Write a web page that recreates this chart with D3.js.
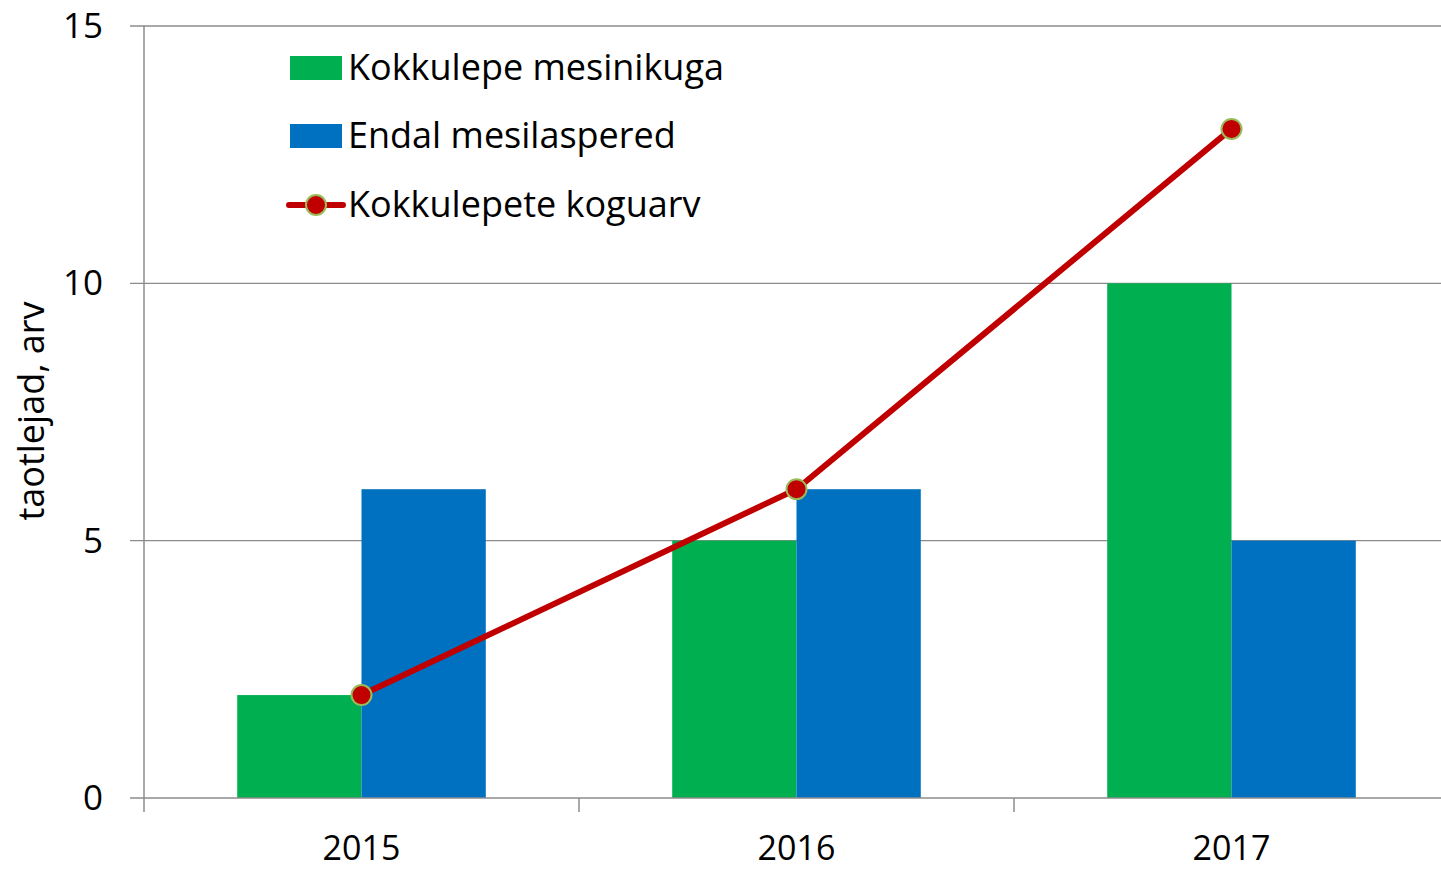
<!DOCTYPE html>
<html>
<head>
<meta charset="utf-8">
<script src="https://cdn.jsdelivr.net/npm/d3@7"></script>
<style>
  body { margin: 0; background: #fff; }
  text { font-family: "Open Sans", Lato, sans-serif; fill: #000; }
</style>
</head>
<body>
<div id="chart"></div>
<script>
// andmed
const aastad = ["2015", "2016", "2017"];
const mesinikuga = [2, 5, 10];
const endalPered = [6, 6, 5];
const koguarv = [2, 6, 13];
const yTicks = [0, 5, 10, 15];
const seeriad = ["Kokkulepe mesinikuga", "Endal mesilaspered", "Kokkulepete koguarv"];

const W = 1441, H = 870;
const m = { left: 144, right: -8, top: 26, bottom: 72 };

const svg = d3.select("#chart").append("svg")
    .attr("width", W).attr("height", H);

const x = d3.scaleBand()
    .domain(aastad)
    .range([m.left, W - m.right])
    .paddingInner(0).paddingOuter(0);

const xSub = d3.scaleBand()
    .domain(["g", "b"])
    .range([0, x.bandwidth()])
    .paddingInner(0)
    .paddingOuter(0.75);

const y = d3.scaleLinear().domain([0, 15]).range([H - m.bottom, m.top]);

// ruudustik
svg.append("g").selectAll("line")
    .data(yTicks.filter(d => d > 0))
    .join("line")
    .attr("x1", m.left - 14).attr("x2", W)
    .attr("y1", d => y(d)).attr("y2", d => y(d))
    .attr("stroke", "#8c8c8c").attr("stroke-width", 1.3);

// tulbad
svg.append("g").selectAll("rect")
    .data(aastad.map((a, i) => ({ a, v: mesinikuga[i] })))
    .join("rect")
    .attr("x", d => x(d.a) + xSub("g"))
    .attr("width", xSub.bandwidth())
    .attr("y", d => y(d.v))
    .attr("height", d => y(0) - y(d.v))
    .attr("fill", "#00B050");

svg.append("g").selectAll("rect")
    .data(aastad.map((a, i) => ({ a, v: endalPered[i] })))
    .join("rect")
    .attr("x", d => x(d.a) + xSub("b"))
    .attr("width", xSub.bandwidth())
    .attr("y", d => y(d.v))
    .attr("height", d => y(0) - y(d.v))
    .attr("fill", "#0070C0");

// teljed
svg.append("line")
    .attr("x1", m.left).attr("x2", m.left)
    .attr("y1", y(15)).attr("y2", y(0))
    .attr("stroke", "#8c8c8c").attr("stroke-width", 1.5);
svg.append("line")
    .attr("x1", m.left - 14).attr("x2", W)
    .attr("y1", y(0)).attr("y2", y(0))
    .attr("stroke", "#8c8c8c").attr("stroke-width", 1.5);
svg.append("g").selectAll("line")
    .data(aastad)
    .join("line")
    .attr("x1", d => x(d)).attr("x2", d => x(d))
    .attr("y1", y(0)).attr("y2", y(0) + 14)
    .attr("stroke", "#8c8c8c").attr("stroke-width", 1.5);

svg.append("g").selectAll("text")
    .data(yTicks)
    .join("text")
    .attr("x", 103)
    .attr("y", d => y(d) + 12)
    .attr("text-anchor", "end")
    .style("font-size", "35px")
    .text(d => d);

svg.append("g").selectAll("text")
    .data(aastad)
    .join("text")
    .attr("x", d => x(d) + x.bandwidth() / 2)
    .attr("y", 860)
    .attr("text-anchor", "middle")
    .style("font-size", "34px")
    .text(d => d);

svg.append("text")
    .attr("transform", `translate(44, ${411}) rotate(-90)`)
    .attr("text-anchor", "middle")
    .style("font-size", "36px")
    .text("taotlejad, arv");

// joon
const cx = d => x(d) + x.bandwidth() / 2;
const joon = d3.line()
    .x((d, i) => cx(aastad[i]))
    .y(d => y(d));
svg.append("path")
    .datum(koguarv)
    .attr("d", joon)
    .attr("fill", "none")
    .attr("stroke", "#C00000")
    .attr("stroke-width", 6)
    .attr("stroke-linejoin", "round");
svg.append("g").selectAll("circle")
    .data(koguarv)
    .join("circle")
    .attr("cx", (d, i) => cx(aastad[i]))
    .attr("cy", d => y(d))
    .attr("r", 10)
    .attr("fill", "#C00000")
    .attr("stroke", "#9BBB59")
    .attr("stroke-width", 2);

// legend
const leg = svg.append("g");
const legY = [68, 136, 205];
leg.append("rect").attr("x", 290).attr("y", legY[0] - 12).attr("width", 52).attr("height", 24).attr("fill", "#00B050");
leg.append("rect").attr("x", 290).attr("y", legY[1] - 12).attr("width", 52).attr("height", 24).attr("fill", "#0070C0");
leg.append("line").attr("x1", 289).attr("x2", 343).attr("y1", legY[2]).attr("y2", legY[2])
    .attr("stroke", "#C00000").attr("stroke-width", 6).attr("stroke-linecap", "round");
leg.append("circle").attr("cx", 316).attr("cy", legY[2]).attr("r", 10)
    .attr("fill", "#C00000").attr("stroke", "#9BBB59").attr("stroke-width", 2);
leg.selectAll("text.l")
    .data(seeriad)
    .join("text")
    .attr("class", "l")
    .attr("x", 348)
    .attr("y", (d, i) => legY[i] + 12)
    .style("font-size", "36px")
    .text(d => d);
</script>
</body>
</html>
